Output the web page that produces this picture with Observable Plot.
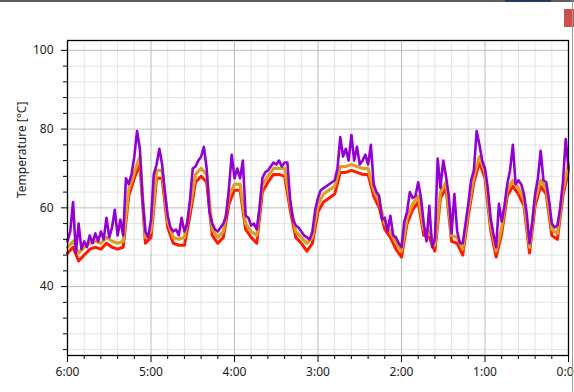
<!DOCTYPE html>
<html>
<head>
<meta charset="utf-8">
<script src="https://cdn.jsdelivr.net/npm/d3@7"></script>
<script src="https://cdn.jsdelivr.net/npm/@observablehq/plot@0.6"></script>
<style>
  html, body { margin: 0; padding: 0; background: #fff; }
  #wrap { position: relative; width: 574px; height: 392px; overflow: hidden; }
  #topbar { position: absolute; left: 0; top: 0; width: 574px; height: 2px; background: #5c5c5c; }
  #topbar2 { position: absolute; left: 505px; top: 0; width: 46px; height: 2px; background: #1f3b5a; }
  #redbox { position: absolute; left: 564px; top: 9px; width: 10px; height: 18px; background: #c9504f; }
  #rightline { position: absolute; left: 572px; top: 0; width: 1px; height: 392px; background: #9a9a9a; }
</style>
</head>
<body>
<div id="wrap">
  <div id="chart"></div>
  <div id="topbar"></div>
  <div id="topbar2"></div>
  <div id="redbox"></div>
  <div id="rightline"></div>
</div>
<script>
// minutes before now (x), 2-minute steps from 360 down to 0
const purpleMinutes = d3.range(360, -1, -2);
const purpleValues = [
  51.5, 54, 61.5, 48.5, 56, 49.5, 51.5, 50, 53, 51,
  53.5, 51.5, 54, 52, 57.5, 52.5, 55, 59.5, 53, 57,
  53, 67.5, 66, 68.5, 73, 79.5, 75, 62, 54, 52.5,
  57, 68.5, 71, 75, 71, 64, 58, 55, 54, 54.5,
  53, 57.5, 54, 56, 62, 70, 70.5, 72, 73, 75.5,
  70, 59, 56, 54.5, 54, 55, 56, 58, 65, 73.5,
  67.5, 70, 67.5, 72, 58, 57.5, 55.5, 56, 54.5, 60,
  67.5, 69, 69.5, 70.5, 71.5, 71, 72, 70.5, 71.5, 71.5,
  62, 57, 55.5, 55, 54, 53, 52.5, 52, 54, 59.5,
  62.5, 64.5, 65, 65.5, 66, 66.5, 67, 70, 78, 73,
  75, 72, 78.5, 72, 75.5, 71, 72, 73.5, 71, 76,
  66, 64, 63, 57, 57.5, 54, 58, 53, 52.5, 51,
  50, 56.5, 59, 64, 62.5, 63, 66.5, 62.5, 56, 51.5,
  60.5, 50, 52, 72.5, 65, 72, 68, 63, 53.5, 63.5,
  54, 51, 51, 56, 61, 67, 69.5, 79.5, 76, 72,
  70, 65, 57.5, 53.5, 50, 61, 56.5, 60.5, 66, 69.5,
  76, 66, 67, 66, 63.5, 58.5, 51, 56.5, 63.5, 67.5,
  74.5, 67, 66.5, 62, 56, 55, 55.5, 60, 66.5, 77.5,
  70
];
// 4-minute steps from 360 down to 0
const lowerMinutes = d3.range(360, -1, -4);
const orangeValues = [
  50, 51.5, 48.5, 50, 51, 51.5, 51, 52.5, 51.5, 51,
  51.5, 64.5, 69, 73, 52.5, 54, 69.5, 69.5, 56.5, 52.5,
  52, 52.5, 60, 68.5, 70, 68.5, 54.5, 52.5, 54, 63,
  66, 66, 56, 54, 53, 66, 68, 70, 70, 70,
  61, 54, 52.5, 51, 52.5, 61, 63.5, 64.5, 65.5, 70.5,
  70.5, 71, 70.5, 70, 70, 64.5, 61.5, 56, 54, 51,
  49, 57.5, 61, 63, 54.5, 54, 50.5, 64, 66.5, 53,
  52.5, 49.5, 59.5, 68, 73, 69, 56, 49, 55, 64.5,
  67, 65, 62, 50, 62, 67, 65, 54.5, 53.5, 64.5,
  71
];
const redValues = [
  48.5, 50, 46.5, 48, 49.5, 50, 49.5, 51, 50, 49.5,
  50, 63, 67.5, 71, 51, 52.5, 67.5, 67.5, 55, 51,
  50.5, 50.5, 58, 66.5, 68, 66.5, 53, 51, 52.5, 61,
  64.5, 64.5, 54.5, 52.5, 51, 64, 66.5, 68.5, 68.5, 68,
  59.5, 52.5, 51, 49, 51, 59, 61.5, 62.5, 63.5, 69,
  69, 69.5, 69, 68.5, 68.5, 63, 60, 54.5, 52.5, 49.5,
  47.5, 56, 59.5, 61.5, 53, 52.5, 49, 62.5, 65, 51.5,
  51, 48, 58, 66.5, 71.5, 67.5, 54.5, 47.5, 53.5, 63,
  65.5, 63.5, 60.5, 48.5, 60.5, 65.5, 63.5, 53, 52, 63,
  69.5
];
const xMajorTicks = [360, 300, 240, 180, 120, 60, 0];
const xMinorTicks = d3.range(0, 361, 12).filter(d => d % 60 !== 0);
const yMajorTicks = [40, 60, 80, 100];
const yMinorTicks = d3.range(24, 101, 4).filter(d => d % 20 !== 0);
const yTitle = "Temperature [°C]";

const purple = purpleMinutes.map((m, i) => ({m, v: purpleValues[i]}));
const orange = lowerMinutes.map((m, i) => ({m, v: orangeValues[i]}));
const red = lowerMinutes.map((m, i) => ({m, v: redValues[i]}));

const chart = Plot.plot({
  width: 574,
  height: 392,
  marginLeft: 67,
  marginRight: 6,
  marginTop: 40,
  marginBottom: 37,
  style: {fontFamily: "'Noto Sans', 'Open Sans', sans-serif", fontSize: "12px", color: "#1a1a1a", background: "transparent"},
  x: {domain: [360, 0], label: null},
  y: {domain: [22.5, 102.5], label: null},
  marks: [
    Plot.gridX(xMinorTicks, {stroke: "#e4e4e4", strokeOpacity: 1}),
    Plot.gridY(yMinorTicks, {stroke: "#e4e4e4", strokeOpacity: 1}),
    Plot.gridX(xMajorTicks, {stroke: "#bdbdbd", strokeOpacity: 1}),
    Plot.gridY(yMajorTicks, {stroke: "#bdbdbd", strokeOpacity: 1}),
    Plot.lineY(red, {x: "m", y: "v", stroke: "#ff1a00", strokeWidth: 3}),
    Plot.lineY(orange, {x: "m", y: "v", stroke: "#dba020", strokeWidth: 3.2}),
    Plot.lineY(purple, {x: "m", y: "v", stroke: "#9400d3", strokeWidth: 2.6}),
    Plot.axisY(yMajorTicks, {tickSize: 6, tickPadding: 8, label: null, stroke: "#000"}),
    Plot.axisY(yMinorTicks, {tickSize: 4, tickFormat: () => "", label: null, stroke: "#000"}),
    Plot.axisX(xMajorTicks, {tickSize: 7, tickPadding: 5, label: null, stroke: "#000",
      tickFormat: d => `${d / 60}:00`}),
    Plot.axisX(xMinorTicks, {tickSize: 4, tickFormat: () => "", label: null, stroke: "#000"}),
    Plot.frame({stroke: "#000", strokeWidth: 1.3}),
    Plot.text([yTitle], {frameAnchor: "left", text: d => d, rotate: -90, dx: -45, fontSize: 12, fill: "#1a1a1a"})
  ]
});
document.getElementById("chart").appendChild(chart);
</script>
</body>
</html>
